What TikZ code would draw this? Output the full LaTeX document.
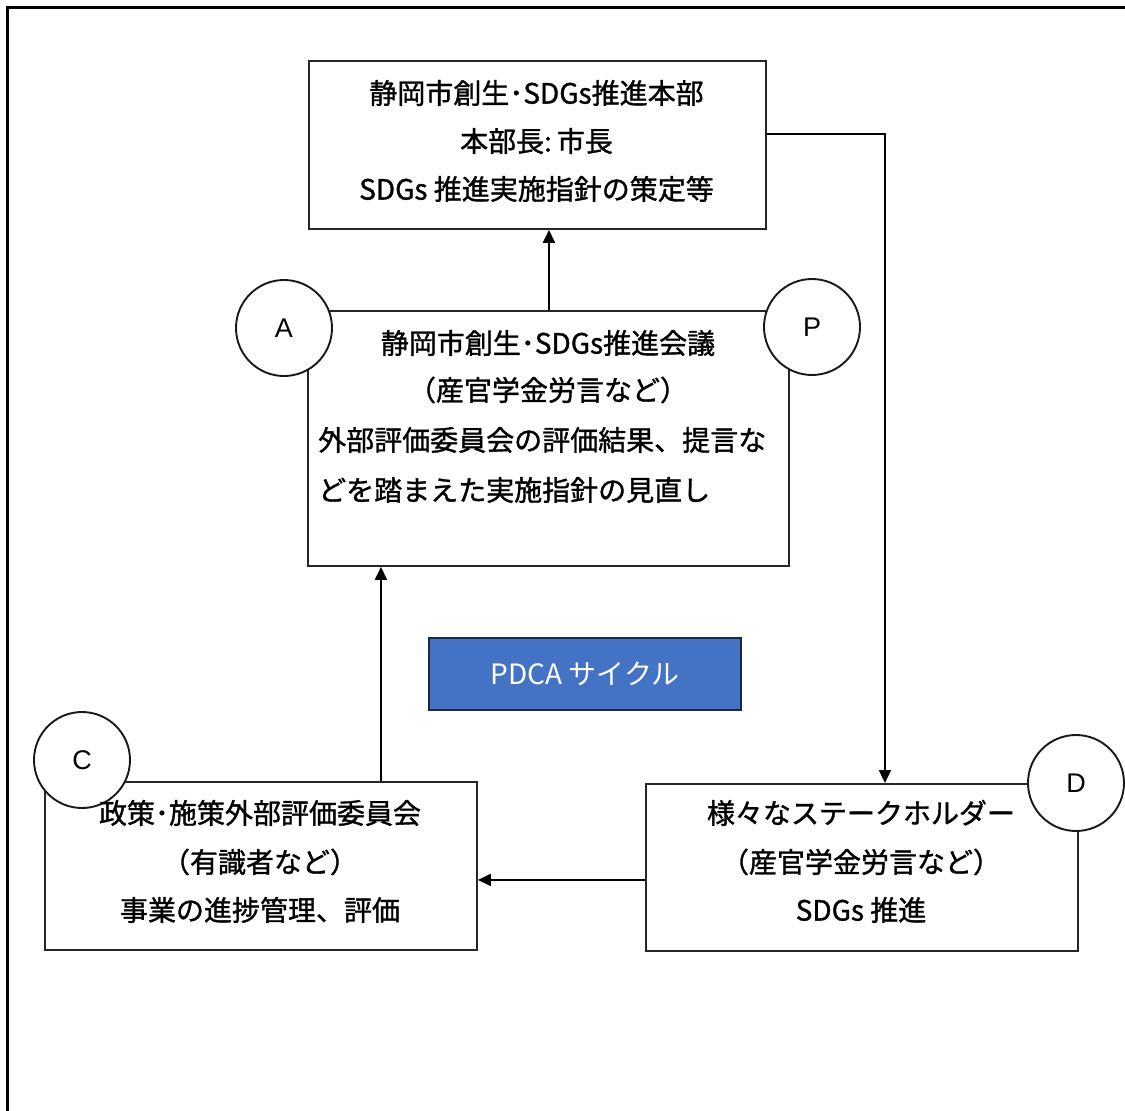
\documentclass[tikz,border=0pt]{standalone}
\usepackage{fontspec}
\setmainfont{Noto Sans CJK JP}[BoldFont={Noto Sans CJK JP}, BoldFeatures={FakeBold=1.2}]
\newfontfamily\latf{Liberation Sans}
\usetikzlibrary{arrows.meta}
\definecolor{pdcablue}{HTML}{4472C4}
\definecolor{pdcaedge}{HTML}{1C2740}
\begin{document}
\begin{tikzpicture}[x=1pt,y=-1pt,
  box/.style={draw=black!85, line width=1.9pt, inner sep=0pt, anchor=north west},
  circ/.style={circle, draw=black!90, line width=1.9pt, fill=white, minimum size=96pt, inner sep=0pt, font=\latf\fontsize{27}{30}\selectfont},
  txt/.style={anchor=base, inner sep=0pt, font=\fontsize{28}{34}\selectfont\bfseries},
  txtl/.style={anchor=base west, inner sep=0pt, font=\fontsize{28}{34}\selectfont\bfseries},
  arr/.style={line width=1.9pt, -{Triangle[length=13pt,width=12pt]}},
]
\useasboundingbox (0,0) rectangle (1125,1111);
\clip (0,0) rectangle (1125,1111);
% outer frame (runs off the page at right and bottom)
\draw[line width=3pt] (7.5,1200) -- (7.5,7.5) -- (1200,7.5);

% boxes
\node[box, minimum width=457pt, minimum height=168pt] (top) at (308,60) {};
\node[box, minimum width=481pt, minimum height=255pt] (mid) at (307,310) {};
\node[box, minimum width=432pt, minimum height=168pt] (cbox) at (44,781) {};
\node[box, minimum width=432pt, minimum height=167pt] (dbox) at (645,783) {};
\node[box, draw=pdcaedge, fill=pdcablue, minimum width=312pt, minimum height=72pt] (pdca) at (428,637) {};

% circles
\node[circ] (cA) at (284,328) {A};
\node[circ] (cP) at (812,327) {P};
\node[circ] (cC) at (82,760) {C};
\node[circ] (cD) at (1076,783) {D};

% texts
\node[txt] (t1) at (536.5,103.6) {静岡市創生･SDGs推進本部};
\node[txt] (t2) at (536.5,151.6) {本部長:\hspace{5pt}市長};
\node[txt] (t3) at (536.5,199.6) {SDGs 推進実施指針の策定等};

\node[txt] (m1) at (548,353.6) {静岡市創生･SDGs推進会議};
\node[txt] (m2) at (548,400.6) {（産官学金労言など）};
\node[txtl] (m3) at (318,450.6) {外部評価委員会の評価結果、提言な};
\node[txtl] (m4) at (318,500.6) {どを踏まえた実施指針の見直し};

\node[txt] (c1) at (260,823.6) {政策･施策外部評価委員会};
\node[txt] (c2) at (260,872.6) {（有識者など）};
\node[txt] (c3) at (260,920.6) {事業の進捗管理、評価};

\node[txt] (d1) at (861,823.6) {様々なステークホルダー};
\node[txt] (d2) at (861,872.6) {（産官学金労言など）};
\node[txt] (d3) at (861,920.6) {SDGs 推進};

\node[anchor=center, inner sep=0pt, text=white, font=\fontsize{28}{32}\selectfont] (pt) at (pdca.center) {PDCA サイクル};

% connectors
\draw[arr] ([xshift=0.5pt]mid.north) -- ([xshift=0.5pt]mid.north |- top.south);
\draw[arr] ([yshift=11pt]top.east) -| ([xshift=23pt]dbox.north);
\draw[arr] ([xshift=120pt]cbox.north) -- ([xshift=120pt]cbox.north |- mid.south);
\draw[arr] ([yshift=-12.5pt]dbox.west) -- ([yshift=-12.5pt]dbox.west -| cbox.east);
\end{tikzpicture}
\end{document}
